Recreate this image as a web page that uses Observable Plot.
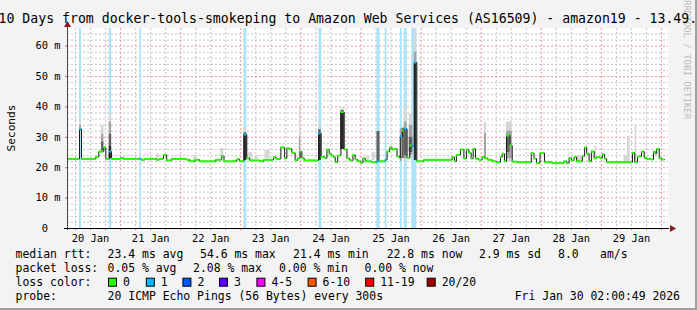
<!DOCTYPE html>
<html><head><meta charset="utf-8">
<script src="https://cdn.jsdelivr.net/npm/d3@7"></script>
<script src="https://cdn.jsdelivr.net/npm/@observablehq/plot@0.6"></script>
<style>
html,body{margin:0;padding:0;background:#f3f3f3;}
#chart svg{display:block;}
</style></head><body><div id="chart"></div>
<script>
// ---------- DATA ----------
const titleText = "10 Days from docker-tools-smokeping to Amazon Web Services (AS16509) - amazon19 - 13.49.";
const yTitle = "Seconds";
const windowStartUTC = Date.UTC(2026, 0, 20, 2, 48); // left edge of the 10-day window
const windowHours = 240;
const dayLabels = ["20 Jan","21 Jan","22 Jan","23 Jan","24 Jan","25 Jan","26 Jan","27 Jan","28 Jan","29 Jan"];
const yTicks = [0, 10, 20, 30, 40, 50, 60];
const yMax = 65.8;

// median RTT steps: start hour (from window start), median ms, lost pings
const stepHour = [0,4.8,5.6,11.3,12.5,14.5,15.3,16.7,17.6,21.2,22.5,28.9,29.6,30.9,35.6,36.7,38.3,39.6,41.6,47.6,48.9,50.9,52.8,59.2,61.6,62.5,67.6,68.7,70.5,71.6,72.7,77.0,78.3,82.3,83.3,85.2,86.7,87.6,88.7,89.6,90.9,91.9,92.9,93.6,94.5,100.3,101.3,102.9,103.6,104.5,105.3,106.3,106.9,107.9,109.2,110.5,111.6,112.7,114.0,114.9,115.9,117.2,118.0,118.9,121.6,123.6,124.7,126.9,127.6,128.7,129.6,130.5,131.6,132.7,132.9,133.7,134.5,135.6,136.7,137.6,138.5,139.5,142.3,153.6,154.5,155.3,156.9,158.3,159.3,160.3,161.2,162.0,162.9,164.3,165.6,166.5,167.9,169.6,171.3,172.9,173.6,174.5,175.3,176.7,177.6,179.6,185.2,186.3,187.3,188.7,190.5,193.6,198.3,199.3,200.3,201.2,202.3,203.3,205.6,206.5,207.3,208.3,209.2,210.3,211.3,212.7,213.6,214.5,215.3,225.6,226.5,227.6,229.2,230.3,231.3,232.9,234.0,234.7,235.3,236.3,237.3];
const stepMedian = [22.9,32.7,22.9,23.5,25.3,26.7,22.9,25.3,22.9,23.2,22.9,22.9,22.6,22.9,22.6,22.9,24.2,22.4,22.9,22.6,22.1,22.6,22.1,22.6,23.8,22.1,22.8,22.1,30.9,23.1,22.4,22.1,22.6,23.5,22.9,26.7,23.1,26.4,26.2,24.9,22.4,23.1,25.3,23.2,22.4,31.3,23.5,23.1,26.0,24.6,24.0,23.5,21.8,24.0,38.3,26.0,23.1,22.4,24.2,22.7,22.1,21.6,23.1,22.1,21.8,22.1,22.1,22.6,25.3,26.7,26.0,26.2,23.7,23.2,30.3,32.2,32.8,23.2,27.3,27.0,54.6,22.1,22.6,23.5,22.1,24.2,26.0,23.0,26.0,24.9,23.0,26.2,23.0,22.6,23.5,23.1,22.6,22.1,21.8,23.5,24.6,22.1,30.6,27.3,22.0,21.8,24.8,23.0,21.5,24.8,21.8,21.5,22.1,21.5,23.2,22.4,23.5,22.1,23.8,26.7,24.6,22.1,25.3,23.1,23.5,23.2,24.4,23.0,21.8,24.9,21.8,23.7,25.3,23.2,22.9,22.7,25.3,24.6,26.2,23.1,22.7];
const stepLoss = [0,1,0,0,0,0,0,1,0,0,0,1,0,0,0,0,0,0,0,0,0,0,0,0,0,0,0,0,1,0,0,0,0,0,0,0,0,0,0,0,0,0,0,0,0,1,0,0,0,0,0,0,0,0,0,0,0,0,0,0,0,0,0,0,0,1,0,1,0,0,0,0,0,0,1,0,1,0,0,1,1,0,0,0,0,0,0,0,0,0,0,0,0,0,0,0,0,0,0,0,0,0,0,0,0,0,0,0,0,0,0,0,0,0,0,0,0,0,0,0,0,0,0,0,0,0,0,0,0,0,0,0,0,0,0,0,0,0,0,0,0,0,0];
const lastHour = 238.4;

// packet-loss bands
const lossBandStart = [4.8,16.7,28.9,70.5,100.4,123.6,126.9,132.9,134.5,137.5];
const lossBandEnd   = [5.6,17.6,29.6,71.6,101.6,124.8,127.6,133.7,135.6,139.5];
const lossBandCount = [1,1,1,1,1,1,1,1,1,1];

// smoke: ping spread per interval (density level 0 sparse .. 3 dense)
const smokeStart = [4.8,4.8,13.6,13.6,13.6,16.7,16.7,16.7,16.7,35.6,50.4,61.2,70.5,70.5,70.5,72.4,74.9,78.9,92.6,92.6,100.3,100.3,100.3,109.2,109.2,109.2,119.6,121.6,123.6,132.9,133.7,134.5,134.5,134.5,136.5,136.5,136.5,138.5,138.5,138.5,166.5,166.5,175.3,175.3,175.3,203.3,210.5,222.3,223.6,226.7];
const smokeEnd   = [5.6,5.6,14.5,14.5,14.5,17.6,17.6,17.6,17.6,36.7,51.2,62.4,71.6,71.6,71.6,74.0,76.3,80.9,93.2,93.2,101.3,101.3,101.3,110.5,110.5,110.5,120.7,122.9,124.8,133.7,134.5,135.6,135.6,135.6,137.9,137.9,137.9,139.5,139.5,139.5,167.3,167.3,177.6,177.6,176.7,205.6,211.3,223.6,224.7,227.3];
const smokeLow   = [31.0,32.0,25.3,25.3,25.3,23.0,23.0,23.0,23.0,22.9,22.4,23.0,22.4,22.4,22.4,22.4,22.7,22.9,23.5,23.5,22.4,22.4,22.4,26.0,26.0,26.0,22.1,22.4,22.1,22.0,23.0,22.5,23.0,24.0,23.0,24.0,25.0,22.4,22.4,22.4,23.1,23.1,22.0,23.0,25.0,22.1,22.9,21.8,21.8,21.8];
const smokeHigh  = [35.5,34.0,33.9,31.0,28.5,37.7,35.0,31.0,27.0,24.5,24.0,26.3,33.3,31.5,30.9,25.0,24.0,25.7,39.9,30.0,34.1,32.5,31.3,39.6,38.8,38.3,24.0,25.1,31.9,32.8,33.0,39.7,35.0,32.8,37.7,34.0,30.0,65.4,58.0,54.6,35.0,31.3,35.0,32.0,30.6,24.0,27.1,24.0,30.4,34.1];
const smokeLevel = [0,1,0,1,2,0,1,2,3,0,0,0,0,2,3,0,0,0,0,1,0,2,3,0,2,3,0,0,2,1,2,0,1,2,0,1,2,0,1,3,0,1,0,1,2,0,0,0,0,0];

// legend
const lossClasses = ["0","1","2","3","4-5","6-10","11-19","20/20"];
const lossColors  = ["#26ff00","#00b8ff","#0059ff","#5e00ff","#ff00ff","#ff5500","#ff0000","#a10000"];
const rttStats  = ["23.4 ms avg","54.6 ms max","21.4 ms min","22.8 ms now","2.9 ms sd","8.0","am/s"];
const lossStats = ["0.05 % avg","2.08 % max","0.00 % min","0.00 % now"];
const probeText = "20 ICMP Echo Pings (56 Bytes) every 300s";
const stampText = "Fri Jan 30 02:00:49 2026";
const watermark = "RRDTOOL / TOBI OETIKER";

// ---------- STYLE / LAYOUT ----------
const FONT = "DejaVu Sans Mono";
const smokeFills = ["#d6d6d6", "#a4a4a4", "#606060", "#2e2e2e"];
const bandFill = "#aae4f8";
const minorGrid = "#c4c4c4", majorGrid = "#ec9a9a";
const rttX = [107.6, 200, 293, 386.7, 479, 558, 600];
const lossX = [107.6, 193, 279, 364.5];
const boxX = [108, 145.8, 182.4, 219, 256.4, 307.6, 365.2, 426.7];

// ---------- BUILD ----------
const T = h => new Date(windowStartUTC + h * 3600e3);
const t0 = T(0), t1 = T(windowHours);

const steps = stepHour.map((h, i) => ({
  t1: T(h), t2: T(i + 1 < stepHour.length ? stepHour[i + 1] : lastHour),
  v: stepMedian[i], loss: stepLoss[i]
}));
const linePts = steps.map(d => ({t: d.t1, v: d.v})).concat([{t: T(lastHour), v: stepMedian[stepMedian.length - 1]}]);
const bands = lossBandStart.map((s, i) => ({x1: T(s), x2: T(lossBandEnd[i]), n: lossBandCount[i]}));
const smoke = smokeStart.map((s, i) => ({x1: T(s), x2: T(smokeEnd[i]), lo: smokeLow[i], hi: smokeHigh[i], level: smokeLevel[i]}));

const majorX = d3.utcDay.range(t0, t1);
const minorX = d3.utcHour.every(6).range(t0, t1).filter(d => d.getUTCHours() !== 0);
const majorY = d3.range(10, yMax, 10);
const minorY = d3.range(2, yMax, 2).filter(v => v % 10 !== 0);
const noon = dayLabels.map((_, i) => new Date(Date.UTC(2026, 0, 20 + i, 12)));
const pxH = windowHours / 601; // hours per pixel
const pxV = yMax / 200;        // ms per pixel

const marks = [
  Plot.frame({fill: "white", stroke: null}),
  Plot.ruleY(minorY, {stroke: minorGrid, strokeDasharray: "2,2"}),
  Plot.ruleX(minorX, {stroke: minorGrid, strokeDasharray: "2,2"}),
  Plot.ruleY(majorY, {stroke: majorGrid, strokeDasharray: "2,2"}),
  Plot.ruleX(majorX, {stroke: majorGrid, strokeDasharray: "2,2"}),
  Plot.rect(bands, {x1: "x1", x2: "x2", y1: () => 0, y2: () => yMax, fill: bandFill}),
  ...[0, 1, 2, 3].map(l => Plot.rect(smoke.filter(d => d.level === l), {x1: "x1", x2: "x2", y1: "lo", y2: "hi", fill: smokeFills[l]})),
  Plot.line(linePts, {x: "t", y: "v", curve: "step-after", stroke: "#1a1a1a", strokeWidth: 1}),
  ...lossColors.map((c, k) => Plot.ruleY(steps.filter(d => d.loss === k), {x1: "t1", x2: "t2", y: "v", stroke: c, strokeWidth: 2})),
  // axis lines, ticks and arrows
  Plot.ruleX(majorX, {y1: () => 0, y2: () => -2 * pxV, stroke: "#e05050"}),
  Plot.ruleX(minorX, {y1: () => 0, y2: () => -2 * pxV, stroke: "#888"}),
  Plot.ruleY(yTicks, {x1: () => T(-2 * pxH), x2: () => t0, stroke: "#888"}),
  Plot.ruleY([0], {x1: () => T(-3 * pxH), x2: () => T(windowHours + 1 * pxH), stroke: "#000"}),
  Plot.ruleX([t0], {y1: () => -2 * pxV, y2: () => yMax + 3 * pxV, stroke: "#444"}),
  Plot.dot([0], {x: () => T(windowHours + 3.5 * pxH), y: () => 0, symbol: "triangle", rotate: 90, r: 2.6, fill: "#8b1a1a"}),
  Plot.dot([0], {x: () => t0, y: () => yMax + 3.5 * pxV, symbol: "triangle", r: 2.6, fill: "#8b1a1a"}),
  Plot.axisY({ticks: yTicks, tickFormat: d => d === 0 ? "0\u00a0\u00a0" : d + " m", tickSize: 0, tickPadding: 7, label: null, fill: "#000", fontSize: 10.4}),
  Plot.axisX({ticks: noon, tickFormat: (d, i) => dayLabels[i], tickSize: 0, tickPadding: 6, label: null, fill: "#000", fontSize: 10.4})
];

const svg = Plot.plot({
  width: 697, height: 310,
  marginLeft: 67, marginRight: 29, marginTop: 28, marginBottom: 82,
  style: {background: "#f3f3f3", fontFamily: FONT, fontSize: "10.4px", color: "#000"},
  x: {type: "utc", domain: [t0, t1]},
  y: {domain: [0, yMax]},
  marks
});

const g = d3.select(svg).append("g").attr("font-family", FONT).attr("fill", "#000").attr("text-anchor", "start");
// border
g.append("rect").attr("x", 0).attr("y", 308).attr("width", 697).attr("height", 2).attr("fill", "#a0a0a0");
g.append("rect").attr("x", 695).attr("y", 0).attr("width", 2).attr("height", 310).attr("fill", "#a0a0a0");
// watermark
g.append("text").attr("transform", "translate(684,0) rotate(90)").attr("font-size", 9).attr("fill", "#bdbdbd").text(watermark);
// title
g.append("text").attr("x", -1.5).attr("y", 23).attr("font-size", 13.2).text(titleText);
// y title
g.append("text").attr("transform", "translate(15,128) rotate(-90)").attr("text-anchor", "middle").attr("font-size", 11.2).text(yTitle);

const LF = 11.45;
const row = (y, label) => g.append("text").attr("x", 15.6).attr("y", y).attr("font-size", LF).text(label);
row(258, "median rtt:");
rttStats.forEach((s, i) => g.append("text").attr("x", rttX[i]).attr("y", 258).attr("font-size", LF).text(s));
row(272, "packet loss:");
lossStats.forEach((s, i) => g.append("text").attr("x", lossX[i]).attr("y", 272).attr("font-size", LF).text(s));
row(286, "loss color:");
lossClasses.forEach((s, i) => {
  g.append("rect").attr("x", boxX[i] + 0.5).attr("y", 278.2).attr("width", 8).attr("height", 8)
    .attr("fill", lossColors[i]).attr("stroke", "#000").attr("stroke-width", 1);
  g.append("text").attr("x", boxX[i] + 15).attr("y", 286).attr("font-size", LF).text(s);
});
row(300, "probe:");
g.append("text").attr("x", 107.6).attr("y", 300).attr("font-size", LF).text(probeText);
g.append("text").attr("x", 680).attr("y", 300).attr("text-anchor", "end").attr("font-size", LF).text(stampText);

document.getElementById("chart").appendChild(svg);
</script></body></html>
